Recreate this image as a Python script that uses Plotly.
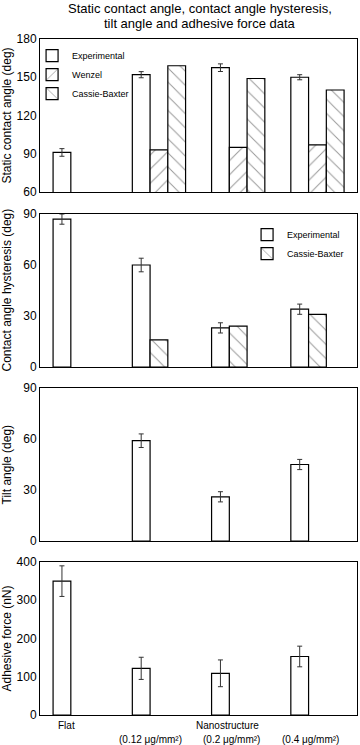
import plotly.graph_objects as go

groups = [0, 1, 2, 3]

# Static contact angle (deg)
sca_exp = [91, 152, 157.5, 150]
sca_exp_err = [3, 2.4, 3, 2]
sca_wenzel = [None, 93, 95, 97]
sca_cassie = [None, 159, 149, 140]

# Contact angle hysteresis (deg)
cah_exp = [87, 60, 23, 34]
cah_exp_err = [3, 4, 3, 3]
cah_cassie = [None, 16, 24, 31]

# Tilt angle (deg)
tilt_exp = [None, 59, 26, 45]
tilt_exp_err = [None, 4, 3, 3]

# Adhesive force (nN)
adh_exp = [350, 122, 109, 153]
adh_exp_err = [40, 29, 35, 27]

title_lines = ["Static contact angle, contact angle hysteresis,", "tilt angle and adhesive force data"]
line1_labels = [("Flat", -0.16), ("Nanostructure", 1.86)]
line2_labels = [("(0.12 μg/mm²)", 0.89), ("(0.2 μg/mm²)", 1.92), ("(0.4 μg/mm²)", 2.91)]

y_titles = ["Static contact angle (deg)", "Contact angle hysteresis (deg)",
            "Tilt angle (deg)", "Adhesive force (nN)"]

W = 0.224
OFF = [-0.335, -0.111, 0.113]
FONT = "Liberation Sans, Arial, sans-serif"
HATCH = "#333333"

fig = go.Figure()

def err(vals):
    return dict(type="data", array=vals, visible=True, color="#333333", thickness=1, width=2.5)

def bar(x, y, xa, ya, name, offset, pattern=None, e=None, legend="legend", showlegend=False):
    marker = dict(color="white", line=dict(color="black", width=1.2))
    if pattern:
        marker["pattern"] = dict(shape=pattern, fgcolor=HATCH, bgcolor="white", size=10, solidity=0.1)
    fig.add_trace(go.Bar(x=x, y=y, xaxis=xa, yaxis=ya, name=name, width=W, offset=offset,
                         marker=marker, error_y=err(e) if e else None,
                         legend=legend, showlegend=showlegend))

# Panel 1
bar(groups, sca_exp, "x", "y", "Experimental", OFF[0], e=sca_exp_err, showlegend=True)
bar(groups, sca_wenzel, "x", "y", "Wenzel", OFF[1], pattern="/", showlegend=True)
bar(groups, sca_cassie, "x", "y", "Cassie-Baxter", OFF[2], pattern="\\", showlegend=True)
# Panel 2
bar(groups, cah_exp, "x2", "y2", "Experimental", OFF[0], e=cah_exp_err, legend="legend2", showlegend=True)
bar(groups, cah_cassie, "x2", "y2", "Cassie-Baxter", OFF[1], pattern="\\", legend="legend2", showlegend=True)
# Panel 3
bar(groups, tilt_exp, "x3", "y3", "Experimental", OFF[0], e=tilt_exp_err)
# Panel 4
bar(groups, adh_exp, "x4", "y4", "Experimental", OFF[0], e=adh_exp_err)

T, B, H = 39, 30, 745
PH = H - T - B
pix = [(39, 192), (214, 367), (388, 541), (562, 715)]
doms = [[1 - (b - T) / PH, 1 - (t - T) / PH] for t, b in pix]
doms = [[max(0, round(a, 4)), min(1, round(c, 4))] for a, c in doms]
yr = [[60, 180], [0, 90], [0, 90], [0, 400]]
dt = [30, 30, 30, 100]

axcommon = dict(showline=True, linecolor="black", linewidth=1, mirror=True, showgrid=False,
                zeroline=False, ticks="")
layout = dict(
    width=360, height=745,
    margin=dict(l=40, r=3, t=T, b=B),
    paper_bgcolor="white", plot_bgcolor="white",
    barmode="overlay",
    font=dict(family=FONT, size=12, color="black"),
    legend=dict(x=-0.025, y=0.997, xanchor="left", yanchor="top", bgcolor="rgba(0,0,0,0)",
                font=dict(size=9), itemwidth=30),
    legend2=dict(x=0.975, y=doms[1][1] - 0.009, xanchor="right", yanchor="top", bgcolor="rgba(0,0,0,0)",
                 font=dict(size=9), itemwidth=30),
    showlegend=True,
)
annotations = []
for txt, ys in zip(title_lines, [30.5, 15.5]):
    annotations.append(dict(text=txt, xref="paper", yref="paper", x=0.505, y=1, xanchor="center",
                            yanchor="middle", yshift=ys, showarrow=False, font=dict(size=13)))
for i in range(4):
    s = "" if i == 0 else str(i + 1)
    layout["xaxis" + s] = dict(axcommon, domain=[0, 1], range=[-0.5, 3.5], showticklabels=False,
                               anchor="y" + s)
    layout["yaxis" + s] = dict(axcommon, domain=doms[i], range=yr[i], dtick=dt[i], anchor="x" + s,
                               tickfont=dict(size=12))
    annotations.append(dict(text=y_titles[i], textangle=-90, xref="paper", yref="paper",
                            x=0, xanchor="center", xshift=-33,
                            y=(doms[i][0] + doms[i][1]) / 2, yanchor="middle",
                            showarrow=False, font=dict(size=12)))
for txt, xv in line1_labels:
    annotations.append(dict(text=txt, xref="x4", yref="paper", x=xv, y=0, yanchor="top", yshift=-3,
                            showarrow=False, font=dict(size=10)))
for txt, xv in line2_labels:
    annotations.append(dict(text=txt, xref="x4", yref="paper", x=xv, y=0, yanchor="top", yshift=-17,
                            showarrow=False, font=dict(size=10)))
layout["annotations"] = annotations
fig.update_layout(**layout)
fig.write_html("out.html", config={"displayModeBar": False},
               post_script="document.body.style.margin='0';document.body.style.overflow='hidden';")
